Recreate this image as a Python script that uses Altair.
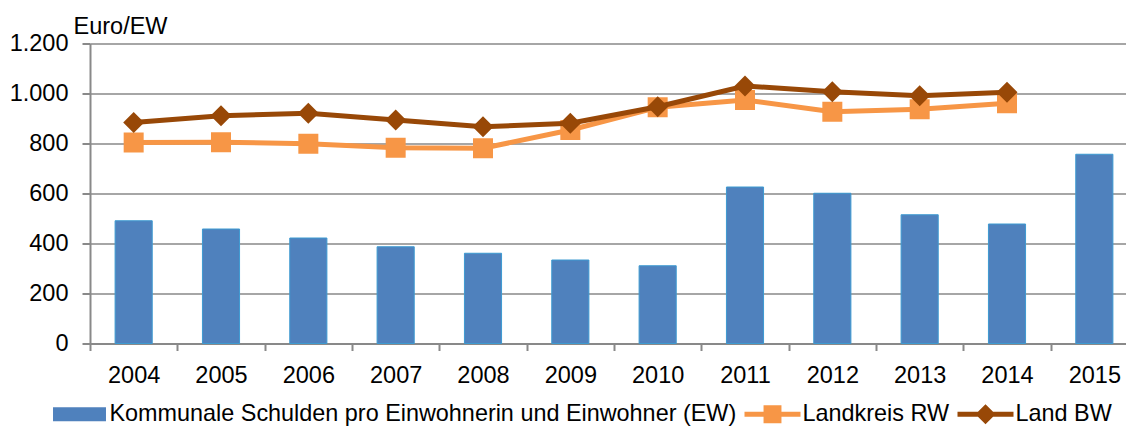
import altair as alt
import pandas as pd

# ---- data ----
years = ["2004", "2005", "2006", "2007", "2008", "2009", "2010", "2011", "2012", "2013", "2014", "2015"]
schulden = [491, 458, 422, 387, 361, 334, 311, 626, 601, 515, 478, 757]
landkreis_years = years[:11]
landkreis = [804, 805, 799, 783, 781, 854, 945, 974, 927, 937, 961]
land_years = years[:11]
land = [884, 911, 921, 894, 867, 881, 947, 1030, 1007, 991, 1005]
y_ticks = [0, 200, 400, 600, 800, 1000, 1200]

S1 = "Kommunale Schulden pro Einwohnerin und Einwohner (EW)"
S2 = "Landkreis RW"
S3 = "Land BW"
series_names = [S1, S2, S3]

BLUE = "#4F81BD"
ORANGE = "#F79646"
BROWN = "#984807"
GRID = "#898989"
FONT = "Liberation Sans"

df_bar = pd.DataFrame({"year": years, "value": schulden, "series": S1})
df_lines = pd.concat([
    pd.DataFrame({"year": landkreis_years, "value": landkreis, "series": S2}),
    pd.DataFrame({"year": land_years, "value": land, "series": S3}),
], ignore_index=True)

# legend symbol shapes (unit square -1..1)
rect_path = "M-0.946,-0.25H0.946V0.25H-0.946Z"
sq_line_path = "M-1,-0.09H-0.32V-0.32H0.32V-0.09H1V0.09H0.32V0.32H-0.32V0.09H-1Z"
di_line_path = "M-1,-0.09H-0.27L0,-0.357L0.27,-0.09H1V0.09H0.27L0,0.357L-0.27,0.09H-1Z"

color_scale = alt.Scale(domain=series_names, range=[BLUE, ORANGE, BROWN])

legend = alt.Legend(
    title=None, orient="none", legendX=-38.5, legendY=342.5, direction="horizontal",
    symbolSize=3136, symbolStrokeWidth=0, symbolOpacity=1,
    labelFont=FONT, labelFontSize=23.4, labelColor="black", labelLimit=1000,
    labelOffset=2, columnPadding=8, padding=0,
)
color_enc = alt.Color("series:N", scale=color_scale, legend=legend)

x_enc = alt.X(
    "year:O",
    scale=alt.Scale(paddingInner=0, paddingOuter=0, range=[0, 1048]),
    axis=alt.Axis(
        title=None, labelAngle=0, tickBand="extent", tickSize=7, tickWidth=2,
        tickColor=GRID, domainColor=GRID, domainWidth=2, labelPadding=12.7,
        grid=False,
    ),
)
y_enc = alt.Y(
    "value:Q",
    scale=alt.Scale(domain=[0, 1200], nice=False, zero=True),
    axis=alt.Axis(
        values=y_ticks, title="Euro/EW", titleAngle=0, titleAlign="left",
        titleBaseline="alphabetic", titleX=-17, titleY=-10,
        titleFontSize=23.5, titleFontWeight="normal", titleFont=FONT, titleColor="black",
        labelExpr="replace(format(datum.value, ','), ',', '.')",
        tickSize=8, tickWidth=2, tickColor=GRID, domainColor=GRID, domainWidth=2,
        labelPadding=14, grid=True, gridColor=GRID, gridWidth=1.5,
    ),
)

# zero-size points that only carry the combined legend (first layer -> its legend wins)
legend_layer = alt.Chart(df_lines).mark_point(filled=True, opacity=1).encode(
    x=x_enc, y=y_enc,
    color=color_enc,
    shape=alt.Shape("series:N", scale=alt.Scale(domain=series_names,
                                                range=[rect_path, sq_line_path, di_line_path]),
                    legend=legend),
    size=alt.value(0),
)

bars = alt.Chart(df_bar).mark_bar(
    width=alt.RelativeBandSize(0.425), stroke="#3D9AD1", strokeWidth=1
).encode(x=x_enc, y=y_enc, color=color_enc)

line_rw = alt.Chart(df_lines).transform_filter(alt.datum.series == S2).mark_line(
    strokeWidth=5).encode(x=x_enc, y=y_enc, color=color_enc)
pts_rw = alt.Chart(df_lines).transform_filter(alt.datum.series == S2).mark_point(
    shape="square", filled=True, size=400, opacity=1, strokeWidth=0
).encode(x=x_enc, y=y_enc, color=color_enc)
line_bw = alt.Chart(df_lines).transform_filter(alt.datum.series == S3).mark_line(
    strokeWidth=5).encode(x=x_enc, y=y_enc, color=color_enc)
pts_bw = alt.Chart(df_lines).transform_filter(alt.datum.series == S3).mark_point(
    shape="diamond", filled=True, size=441, opacity=1, strokeWidth=0
).encode(x=x_enc, y=y_enc, color=color_enc)

chart = alt.layer(legend_layer, bars, line_rw, pts_rw, line_bw, pts_bw).properties(
    width=1036, height=300,
    autosize=alt.AutoSizeParams(type="none"),
    padding={"left": 82, "top": 35.5, "right": 0, "bottom": 84.5},
).configure_axis(
    labelFont=FONT, labelFontSize=23.5, labelColor="black",
).configure_view(stroke=None)

chart.save("out.html", embed_options={"renderer": "svg", "actions": False})
